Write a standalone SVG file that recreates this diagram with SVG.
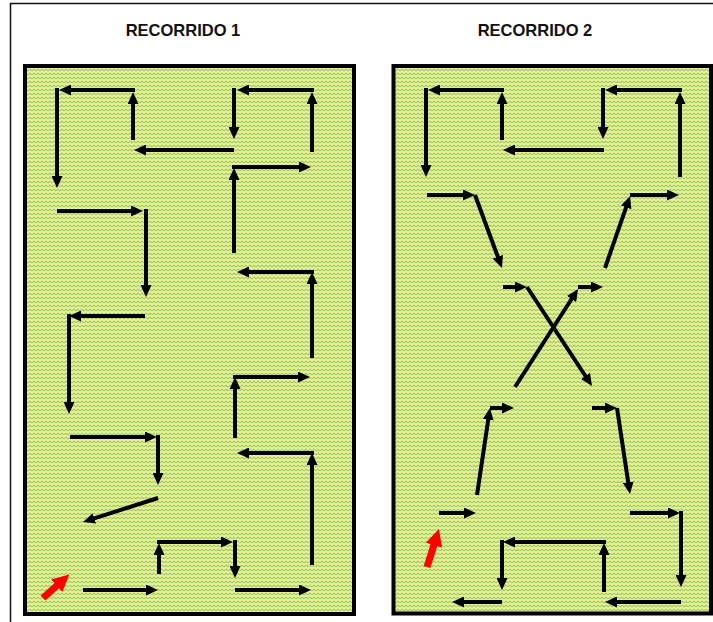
<svg xmlns="http://www.w3.org/2000/svg" width="713" height="622" viewBox="0 0 713 622">
<style>
.t{font-family:"Liberation Sans",Arial,sans-serif;font-weight:bold;font-size:16.5px;fill:#111;text-anchor:middle}
.panel{fill:url(#zz);stroke:#000;stroke-width:4}
.a{fill:none;stroke:#000;stroke-width:4;marker-end:url(#ah)}
.r{fill:none;stroke:#f00;stroke-width:7;marker-end:url(#rh)}
</style>
<defs>
<pattern id="zz" width="4" height="4" patternUnits="userSpaceOnUse">
<rect width="4" height="4" fill="#eef398"/>
<path d="M0,3 L2,1 L4,3" fill="none" stroke="#9ccb68" stroke-width="1.1"/>
</pattern>
<marker id="ah" markerUnits="userSpaceOnUse" markerWidth="12" markerHeight="11" refX="6" refY="5.5" orient="auto" viewBox="0 0 12 11">
<path d="M0,0 L12,5.5 L0,11 z" fill="#000"/>
</marker>
<marker id="rh" markerUnits="userSpaceOnUse" markerWidth="17" markerHeight="17" refX="8" refY="8.5" orient="auto" viewBox="0 0 17 17">
<path d="M0,0 L17,8.5 L0,17 z" fill="#f00"/>
</marker>
</defs>
<rect x="0" y="0" width="713" height="622" fill="#fff"/>
<rect x="10.5" y="3.5" width="720" height="640" fill="none" stroke="#111" stroke-width="1.5"/>
<g id="title1"><text class="t" x="183" y="36">RECORRIDO 1</text></g>
<g id="title2"><text class="t" x="535" y="36">RECORRIDO 2</text></g>
<g id="panel1"><rect class="panel" x="25" y="66" width="329" height="548"/></g>
<g id="panel2"><rect class="panel" x="393.5" y="66" width="317.5" height="547.5"/></g>
<g id="connectors1">
<path class="a" d="M133 140 V98"/>
<path class="a" d="M135 90 H65"/>
<path class="a" d="M57 88 V182"/>
<path class="a" d="M234 150 H140"/>
<path class="a" d="M312 152 V98"/>
<path class="a" d="M314 90 H243"/>
<path class="a" d="M234 88 V133"/>
<path class="a" d="M234 253 V174"/>
<path class="a" d="M232 167 H305"/>
<path class="a" d="M57 211 H137"/>
<path class="a" d="M146 209 V291"/>
<path class="a" d="M145 316 H75"/>
<path class="a" d="M69 314 V408"/>
<path class="a" d="M312 358 V278"/>
<path class="a" d="M314 272 H243"/>
<path class="a" d="M235 438 V383"/>
<path class="a" d="M233 377 H304"/>
<path class="a" d="M70 437 H151"/>
<path class="a" d="M158 435 V479"/>
<path class="a" d="M158 498 L88.7 520.2"/>
<path class="a" d="M312 565 V459"/>
<path class="a" d="M314 453 H243"/>
<path class="a" d="M83 590 H152"/>
<path class="a" d="M159 574 V549"/>
<path class="a" d="M157 542 H227"/>
<path class="a" d="M235 540 V572"/>
<path class="a" d="M235 590 H305"/>
<path class="r" d="M43 598 L62.6 580.4"/>
</g>
<g id="connectors2">
<path class="a" d="M502 140 V98"/>
<path class="a" d="M504 90 H434"/>
<path class="a" d="M426 88 V171"/>
<path class="a" d="M604 150 H509"/>
<path class="a" d="M680 177 V98"/>
<path class="a" d="M682 90 H611"/>
<path class="a" d="M603 88 V133"/>
<path class="a" d="M427 195 H469"/>
<path class="a" d="M475 195 L499.9 262.4"/>
<path class="a" d="M605 268 L628.1 201.7"/>
<path class="a" d="M630 195 H673"/>
<path class="a" d="M503 287 H521"/>
<path class="a" d="M527 287 L588.7 381"/>
<path class="a" d="M515 387 L574.8 294"/>
<path class="a" d="M578 287 H597"/>
<path class="a" d="M477 495 L489.1 413.9"/>
<path class="a" d="M490 408 H508"/>
<path class="a" d="M592 408 H611"/>
<path class="a" d="M617 408 L629.1 488.1"/>
<path class="a" d="M439 513 H470"/>
<path class="a" d="M630 513 H674"/>
<path class="a" d="M681 511 V581"/>
<path class="a" d="M681 602 H611"/>
<path class="a" d="M604 592 V549"/>
<path class="a" d="M606 542 H509"/>
<path class="a" d="M502 540 V584"/>
<path class="a" d="M502 602 H458"/>
<path class="r" d="M427 567 L436.3 537.6"/>
</g>
</svg>
